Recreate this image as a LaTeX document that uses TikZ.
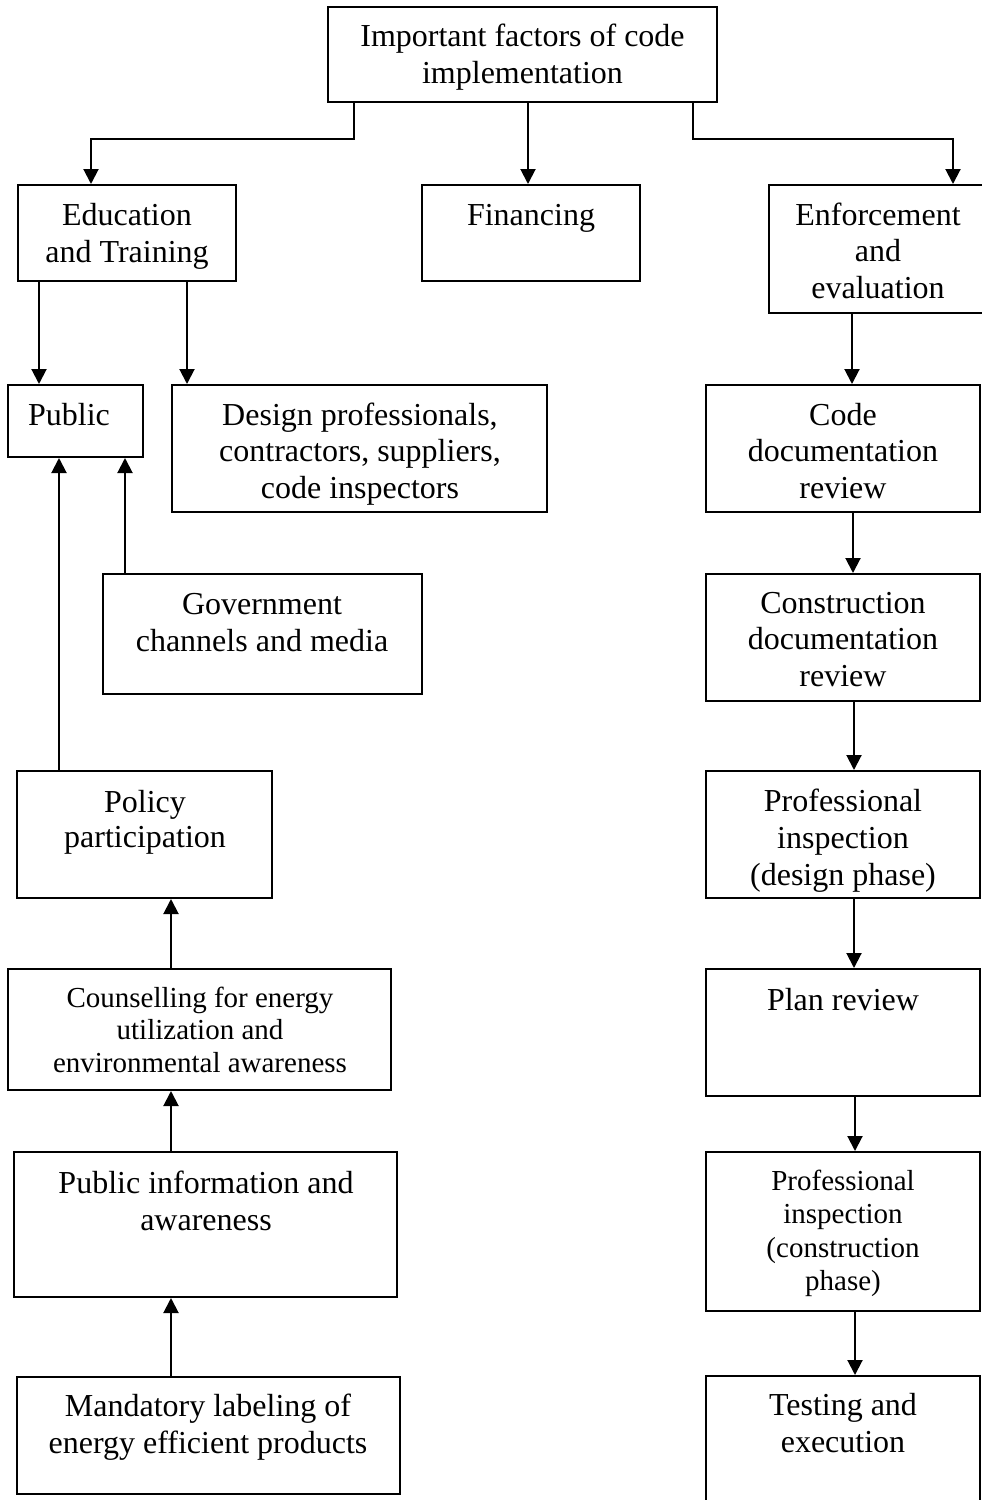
\documentclass[tikz,border=0pt]{standalone}
\usepackage{fontspec}
\setmainfont{Liberation Serif}
\usetikzlibrary{arrows.meta,calc}

% one unit = 0.5pt; y grows downwards
\tikzset{
  x=0.5pt, y=-0.5pt,
  frame/.style={draw, rectangle, line width=1pt, inner sep=0pt},
  arr/.style={line width=1pt, -{Triangle[length=7.5pt,width=7.5pt]}},
  lbl/.style={anchor=base, inner sep=0pt},
}

% \boxat{name}{left}{top}{right}{bottom}
\newcommand\boxat[5]{%
  \node[frame, minimum width={(#4-#2)*0.5pt}, minimum height={(#5-#3)*0.5pt}]
    (#1) at ({(#2+#4)/2},{(#3+#5)/2}) {};}
% \textat{name}{x}{first baseline}{font}{lines}
\newcommand\textat[5]{%
  \node[lbl] (#1) at (#2,#3) {\parbox[t]{200pt}{\centering#4#5}};}
\newcommand\bigf{\fontsize{16pt}{18.5pt}\selectfont}
\newcommand\smallf{\fontsize{14.5pt}{16.75pt}\selectfont}

\begin{document}
\begin{tikzpicture}
\useasboundingbox (0,0) rectangle (981,1500);

% boxes
\boxat{top}{328}{7}{717}{102}
\boxat{edu}{18}{185}{236}{281}
\boxat{fin}{422}{185}{640}{281}
\boxat{enf}{769}{185}{992}{313}
\boxat{pub}{8}{385}{143}{457}
\boxat{des}{172}{385}{547}{512}
\boxat{code}{706}{385}{980}{512}
\boxat{gov}{103}{574}{422}{694}
\boxat{cons}{706}{574}{980}{701}
\boxat{pol}{17}{771}{272}{898}
\boxat{pdes}{706}{771}{980}{898}
\boxat{cou}{8}{969}{391}{1090}
\boxat{plan}{706}{969}{980}{1096}
\boxat{pinfo}{14}{1152}{397}{1297}
\boxat{pcon}{706}{1152}{980}{1311}
\boxat{man}{17}{1377}{400}{1494}
\boxat{test}{706}{1376}{980}{1512}

% labels
\textat{ttop}{522.5}{46}{\bigf}{Important factors of code\\implementation}
\textat{tedu}{127}{225}{\bigf}{Education\\and Training}
\textat{tfin}{531}{225}{\bigf}{Financing}
\textat{tenf}{878}{225}{\fontsize{16pt}{18.25pt}\selectfont}{Enforcement\\and\\evaluation}
\textat{tpub}{69}{425}{\bigf}{Public}
\textat{tdes}{360}{425}{\fontsize{16pt}{18.25pt}\selectfont}{Design professionals,\\contractors, suppliers,\\code inspectors}
\textat{tcode}{843}{425}{\fontsize{16pt}{18.25pt}\selectfont}{Code\\documentation\\review}
\textat{tgov}{262}{614}{\bigf}{Government\\channels and media}
\textat{tcons}{843}{613}{\fontsize{16pt}{18.25pt}\selectfont}{Construction\\documentation\\review}
\textat{tpol}{145}{812}{\fontsize{16pt}{17.75pt}\selectfont}{Policy\\participation}
\textat{tpdes}{843}{811}{\bigf}{Professional\\inspection\\(design phase)}
\textat{tcou}{200}{1007}{\fontsize{14.5pt}{16.25pt}\selectfont}{Counselling for energy\\utilization and\\environmental awareness}
\textat{tplan}{843}{1010}{\bigf}{Plan review}
\textat{tpinfo}{206}{1193}{\bigf}{Public information and\\awareness}
\textat{tpcon}{843}{1190}{\smallf}{Professional\\inspection\\(construction\\phase)}
\textat{tman}{208}{1416}{\bigf}{Mandatory labeling of\\energy efficient products}
\textat{ttest}{843}{1415}{\bigf}{Testing and\\execution}

% connectors from the top box
\draw[arr] ($(top.south west)+(27,0)$) -- ++(0,36) -| ($(edu.north west)+(74,0)$);
\draw[arr] ($(top.south west)+(201,0)$) -- ($(fin.north west)+(107,0)$);
\draw[arr] ($(top.south east)+(-25,0)$) -- ++(0,36) -| ($(enf.north west)+(185,0)$);

% education branch
\draw[arr] ($(edu.south west)+(22,0)$) -- ($(pub.north west)+(32,0)$);
\draw[arr] ($(edu.south west)+(170,0)$) -- ($(des.north west)+(16,0)$);

% into the public box
\draw[arr] ($(gov.north west)+(23,0)$) -- ($(pub.south west)+(118,0)$);
\draw[arr] ($(pol.north west)+(43,0)$) -- ($(pub.south west)+(52,0)$);

% left column, bottom to top
\draw[arr] ($(cou.north west)+(164,0)$) -- ($(pol.south west)+(155,0)$);
\draw[arr] ($(pinfo.north west)+(158,0)$) -- ($(cou.south west)+(164,0)$);
\draw[arr] ($(man.north west)+(155,0)$) -- ($(pinfo.south west)+(158,0)$);

% enforcement chain
\draw[arr] ($(enf.south west)+(84,0)$) -- ($(code.north west)+(147,0)$);
\draw[arr] ($(code.south)+(10,0)$) -- ($(cons.north)+(10,0)$);
\draw[arr] ($(cons.south)+(11,0)$) -- ($(pdes.north)+(11,0)$);
\draw[arr] ($(pdes.south)+(11,0)$) -- ($(plan.north)+(11,0)$);
\draw[arr] ($(plan.south)+(12,0)$) -- ($(pcon.north)+(12,0)$);
\draw[arr] ($(pcon.south)+(12,0)$) -- ($(test.north)+(12,0)$);
\end{tikzpicture}
\end{document}
